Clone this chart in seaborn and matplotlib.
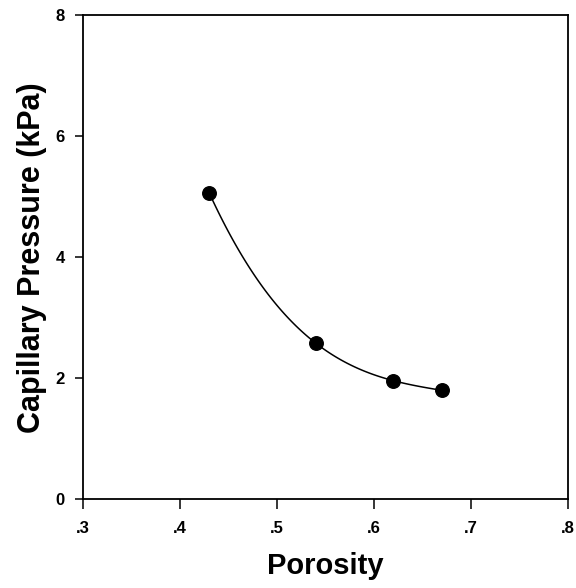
import matplotlib
matplotlib.use("Agg")
import matplotlib.pyplot as plt
import seaborn as sns
import pandas as pd

# Measured capillary pressure versus porosity
porosity = [0.43, 0.54, 0.62, 0.67]
pressure_kpa = [5.07, 2.58, 1.96, 1.80]

x_ticks = [0.3, 0.4, 0.5, 0.6, 0.7, 0.8]
x_tick_labels = [".3", ".4", ".5", ".6", ".7", ".8"]
y_ticks = [0, 2, 4, 6, 8]
y_tick_labels = ["0", "2", "4", "6", "8"]

df = pd.DataFrame({"Porosity": porosity, "Pressure": pressure_kpa})

sns.set_style("ticks")
plt.rcParams["font.family"] = ["Liberation Sans", "DejaVu Sans"]
plt.rcParams["text.color"] = "black"
plt.rcParams["axes.labelcolor"] = "black"

fig = plt.figure(figsize=(5.76, 5.88), dpi=100)
ax = fig.add_axes([0.144, 0.151, 0.842, 0.823])

# smooth fitted curve through the measurements, with filled markers
sns.regplot(
    data=df, x="Porosity", y="Pressure", order=3, ci=None, truncate=True,
    ax=ax, color="black",
    scatter_kws={"s": 95, "color": "black", "edgecolors": "black",
                 "alpha": 1.0, "zorder": 3},
    line_kws={"linewidth": 1.1, "color": "black"},
)

ax.set_xlim(0.3, 0.8)
ax.set_ylim(0, 8)
ax.set_xticks(x_ticks)
ax.set_xticklabels(x_tick_labels)
ax.set_yticks(y_ticks)
ax.set_yticklabels(y_tick_labels)

for side in ["left", "right", "top", "bottom"]:
    ax.spines[side].set_visible(True)
    ax.spines[side].set_linewidth(1.3)
    ax.spines[side].set_color("black")

ax.tick_params(axis="x", direction="out", length=7, width=1.1, pad=9,
               labelsize=12, colors="black")
ax.tick_params(axis="y", direction="out", length=6, width=1.1, pad=7,
               labelsize=12, colors="black")
for lbl in ax.get_xticklabels() + ax.get_yticklabels():
    lbl.set_fontweight("bold")

ax.set_xlabel("Porosity", fontsize=21, fontweight="bold", labelpad=11)
ax.set_ylabel("Capillary Pressure (kPa)", fontsize=22, fontweight="bold", labelpad=6)

fig.savefig("out.png", dpi=100, facecolor="white")
